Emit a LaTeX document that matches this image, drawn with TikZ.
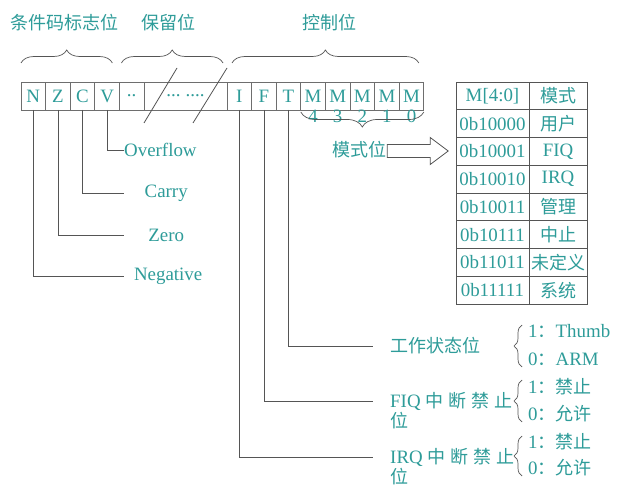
\documentclass[tikz,border=0pt]{standalone}
\usepackage{fontspec}
\setmainfont[Scale=1.05]{Liberation Serif}
\newfontfamily\cjk{Noto Sans CJK SC}
\usepackage{tikz}
\usetikzlibrary{positioning,decorations.pathreplacing}
\definecolor{txt}{HTML}{2E9C99}
\definecolor{lnc}{HTML}{555555}

\begin{document}
\begin{tikzpicture}[x=1pt,y=-1pt,
    every node/.style={font=\fontsize{18}{20}\selectfont,text=txt},
    cell/.style={draw=lnc!85,line width=0.7pt,outer sep=0pt,inner sep=0pt,minimum width=24.6pt,minimum height=28pt},
    tcell/.style={draw=lnc,line width=0.8pt,outer sep=0pt,inner sep=0pt,minimum height=27.75pt},
    wire/.style={draw=lnc,line width=0.8pt},
    brc/.style={draw=lnc,line width=0.7pt,decorate,decoration={brace,amplitude=#1}},
    lab/.style={anchor=west,inner sep=0pt}]
    \fill[white] (0,0) rectangle (620,494);
    \useasboundingbox (0,0) rectangle (620,494);

    % register bits
    \node[cell] (N) at (33.3,96) {N};
    \node[cell,right=0pt of N] (Z) {Z};
    \node[cell,right=0pt of Z] (C) {C};
    \node[cell,right=0pt of C] (V) {V};
    \node[cell,right=0pt of V] (r1) {..};
    \node[cell,right=0pt of r1,minimum width=83pt] (r2) {...\hspace{5pt}....};
    \foreach \n/\p/\t in {I/r2/I,F/I/F,T/F/T,M4/T/M,M3/M4/M,M2/M3/M,M1/M2/M,M0/M1/M}
      \node[cell,right=0pt of \p] (\n) {\t};
    \foreach \i in {4,...,0}
      \node[anchor=north,inner sep=0pt] (d\i) at (M\i.south) {\i};

    % groups above
    \draw[brc=13pt] ([yshift=19pt]N.north west) -- ([xshift=-7pt,yshift=19pt]V.north east);
    \draw[brc=13pt] ([xshift=2pt,yshift=19pt]r1.north west) -- ([xshift=-4pt,yshift=19pt]r2.north east);
    \draw[brc=13pt] ([xshift=5pt,yshift=19pt]I.north west) -- ([xshift=-5pt,yshift=19pt]M0.north east);
    \node (cond) at (64,23) {\cjk 条件码标志位};
    \node (resv) at (168,23) {\cjk 保留位};
    \node (ctrl) at (329,23) {\cjk 控制位};
    \draw[wire] (177,68) -- (144,123);
    \draw[wire] (227,68) -- (193,123);

    % condition flags
    \node[lab,text width=80pt,align=left] (ovf) at (124,150) {Overflow};
    \node[lab,text width=84pt,align=center] (carry) at (124,193) {Carry};
    \node[lab,text width=84pt,align=center] (zero) at (124,235) {Zero};
    \node[lab,text width=88pt,align=center] (neg) at (124,276) {Negative};
    \draw[wire] (V.south) |- (ovf.west);
    \draw[wire] (C.south) |- (carry.west);
    \draw[wire] (Z.south) |- (zero.west);
    \draw[wire] (N.south) |- (neg.west);

    % mode bits
    \draw[brc=15pt] ([yshift=-2pt]M0.south east) -- ([yshift=-2pt]M4.south west);
    \node[inner sep=0pt] (mode) at (359,150) {\cjk 模式位};
    \draw[wire,fill=white] ([shift={(1,-5.5)}]mode.east) -- ++(43,0) -- ++(0,-7)
      -- ++(18,13.5) -- ++(-18,13.5) -- ++(0,-7) -- ++(-43,0) -- cycle;

    % mode table
    \foreach \a/\b [count=\i from 0] in {M[4:0]/{\cjk 模式},0b10000/{\cjk 用户},0b10001/FIQ,
      0b10010/IRQ,0b10011/{\cjk 管理},0b10111/{\cjk 中止},0b11011/{\cjk 未定义},0b11111/{\cjk 系统}}{
      \node[tcell,minimum width=73pt] (k\i) at (492.5,{96+27.75*\i}) {\a};
      \node[tcell,minimum width=58pt,right=0pt of k\i] (m\i) {\b};
    }

    % control bits
    \node[lab,inner xsep=17pt] (tst) at (373,346) {\cjk 工作状态位};
    \node[lab,inner xsep=17pt] (fiq) at (373,401) {FIQ\hspace{5pt}{\cjk 中\hspace{5pt}断\hspace{5pt}禁\hspace{5pt}止}};
    \node[anchor=north west,inner sep=0pt] (fiqw) at ([xshift=17pt,yshift=-2pt]fiq.south west) {\cjk 位};
    \node[lab,inner xsep=17pt] (irq) at (373,457) {IRQ\hspace{5pt}{\cjk 中\hspace{5pt}断\hspace{5pt}禁\hspace{5pt}止}};
    \node[anchor=north west,inner sep=0pt] (irqw) at ([xshift=17pt,yshift=-2pt]irq.south west) {\cjk 位};
    \draw[wire] (T.south) |- (tst.west);
    \draw[wire] (F.south) |- (fiq.west);
    \draw[wire] (I.south) |- (irq.west);

    \draw[brc=8pt] (522,367) -- (522,325);
    \draw[brc=8pt] (522,422) -- (522,380);
    \draw[brc=8pt] (522,476) -- (522,436);
    \node[lab] (t1) at (528,331) {1{\cjk ：}Thumb};
    \node[lab] (t0) at (528,359) {0{\cjk ：}ARM};
    \node[lab] (f1) at (528,387) {1{\cjk ：禁止}};
    \node[lab] (f0) at (528,414) {0{\cjk ：允许}};
    \node[lab] (i1) at (528,442) {1{\cjk ：禁止}};
    \node[lab] (i0) at (528,468) {0{\cjk ：允许}};
  \end{tikzpicture}
\end{document}
